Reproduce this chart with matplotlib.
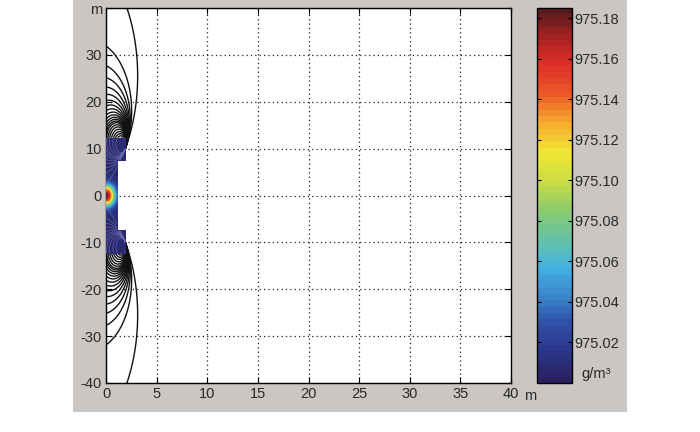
# Campo de densidad cerca de la fuente, con isolíneas y barra de color

import numpy as np
import matplotlib
matplotlib.use("Agg")
import matplotlib.pyplot as plt
from matplotlib.colors import LinearSegmentedColormap
from matplotlib.patches import Rectangle

plt.rcParams['font.family'] = ['Liberation Sans', 'DejaVu Sans']

# ejes
x_ticks = [0, 5, 10, 15, 20, 25, 30, 35, 40]
x_labels = ['0', '5', '10', '15', '20', '25', '30', '35', '40']
y_ticks = [-40, -30, -20, -10, 0, 10, 20, 30, 40]
y_labels = ['-40', '-30', '-20', '-10', '0', '10', '20', '30', 'm']

# barra de color (g/m³)
cbar_ticks = [975.02, 975.04, 975.06, 975.08, 975.10, 975.12, 975.14, 975.16, 975.18]
cbar_min, cbar_max = 975.0, 975.185

# valores
peak_value = 975.18          # máximo en el origen
background_value = 975.008   # fondo azul oscuro dentro de la zona rellena
spot_width_x = 0.8           # m
spot_width_y = 2.1           # m

# zona rellena (escalón): ancho y alto en m
inner_width, inner_half_height = 1.1, 7.5
outer_width, outer_half_height = 1.9, 12.3

# isolíneas que convergen en (1.9, ±10)
focus_x, focus_y = 1.9, 10.0
stretch = 3.6
tilt_x, tilt_y = 0.85, 0.527
line_levels = [0.017, 0.033, 0.042, 0.050, 0.058, 0.066, 0.074, 0.082,
               0.090, 0.098, 0.106, 0.114, 0.122, 0.130, 0.138, 0.150,
               0.165, 0.185, 0.21, 0.24, 0.28, 0.33]

colors_jet = ['#2c1d5c', '#2a3486', '#2f4ea6', '#3a86cc', '#43b2e2',
              '#66c2a4', '#8ccc6c', '#cbdc44', '#f2e632', '#f5ac2e',
              '#ec5a26', '#e2302a', '#a82222', '#4e1a1c']
cmap = LinearSegmentedColormap.from_list('jet_like', colors_jet)

# malla
x = np.linspace(0, 6, 601)
y = np.linspace(-40, 40, 1601)
X, Y = np.meshgrid(x, y)

# campo de densidad
Z = background_value + (peak_value - background_value) * np.exp(
    -(X / spot_width_x) ** 2 - (Y / spot_width_y) ** 2)

box = (np.abs(Y) <= outer_half_height) & (X <= outer_width)
inside = ((np.abs(Y) <= inner_half_height) & (X <= inner_width)) | \
         (box & (np.abs(Y) > inner_half_height))

# campo de las isolíneas
U = (X - focus_x) * stretch
V = np.abs(Y) - focus_y
PHI = (-tilt_x * U + tilt_y * V) / (U ** 2 + V ** 2 + 1e-9)

fig = plt.figure(figsize=(7, 4.32), dpi=100)
fig.add_artist(Rectangle((73 / 700, 20 / 432), 554 / 700, 412 / 432,
                         transform=fig.transFigure, facecolor='#c9c6c3',
                         edgecolor='none', zorder=-1))

ax = fig.add_axes([106 / 700, 1 - 383 / 432, 405 / 700, 375 / 432])
cax = fig.add_axes([537 / 700, 1 - 383 / 432, 35 / 700, 375 / 432])

ax.set_axisbelow(True)
ax.contour(X, Y, np.ma.masked_where(box, PHI), levels=line_levels,
           colors='#111111', linewidths=1.0, zorder=2)
fill_levels = np.linspace(cbar_min, cbar_max, 60)
cf = ax.contourf(X, Y, np.ma.masked_where(~inside, Z), levels=fill_levels,
                 cmap=cmap, zorder=3)
ax.contour(X, Y, np.ma.masked_where(~inside, PHI), levels=line_levels[::2],
           colors='#6a70b0', linewidths=0.5, alpha=0.8, zorder=4)

ax.set_xlim(0, 40)
ax.set_ylim(-40, 40)
ax.set_xticks(x_ticks)
ax.set_xticklabels(x_labels)
ax.set_yticks(y_ticks)
ax.set_yticklabels(y_labels)
ax.grid(True, color='#222222', linestyle=(0, (1, 2.5)), linewidth=0.9)
ax.tick_params(direction='in', length=4, top=True, right=True,
               labelsize=10.5, labelcolor='#2a2a2a', pad=3)
for sp in ax.spines.values():
    sp.set_linewidth(1.0)
fig.text(530 / 700, 1 - 396 / 432, 'm', fontsize=10.5, color='#2a2a2a',
         ha='center', va='center')

cb = fig.colorbar(cf, cax=cax, ticks=cbar_ticks, format='%.2f')
cb.outline.set_linewidth(1.0)
cax.tick_params(direction='in', length=3, left=True, right=True,
                labelsize=10.5, labelcolor='#2a2a2a', pad=2)
fig.text(596 / 700, 1 - 374 / 432, 'g/m³', fontsize=10.5, color='#2a2a2a',
         ha='center', va='center')

fig.savefig('out.png', dpi=100, facecolor='white')
